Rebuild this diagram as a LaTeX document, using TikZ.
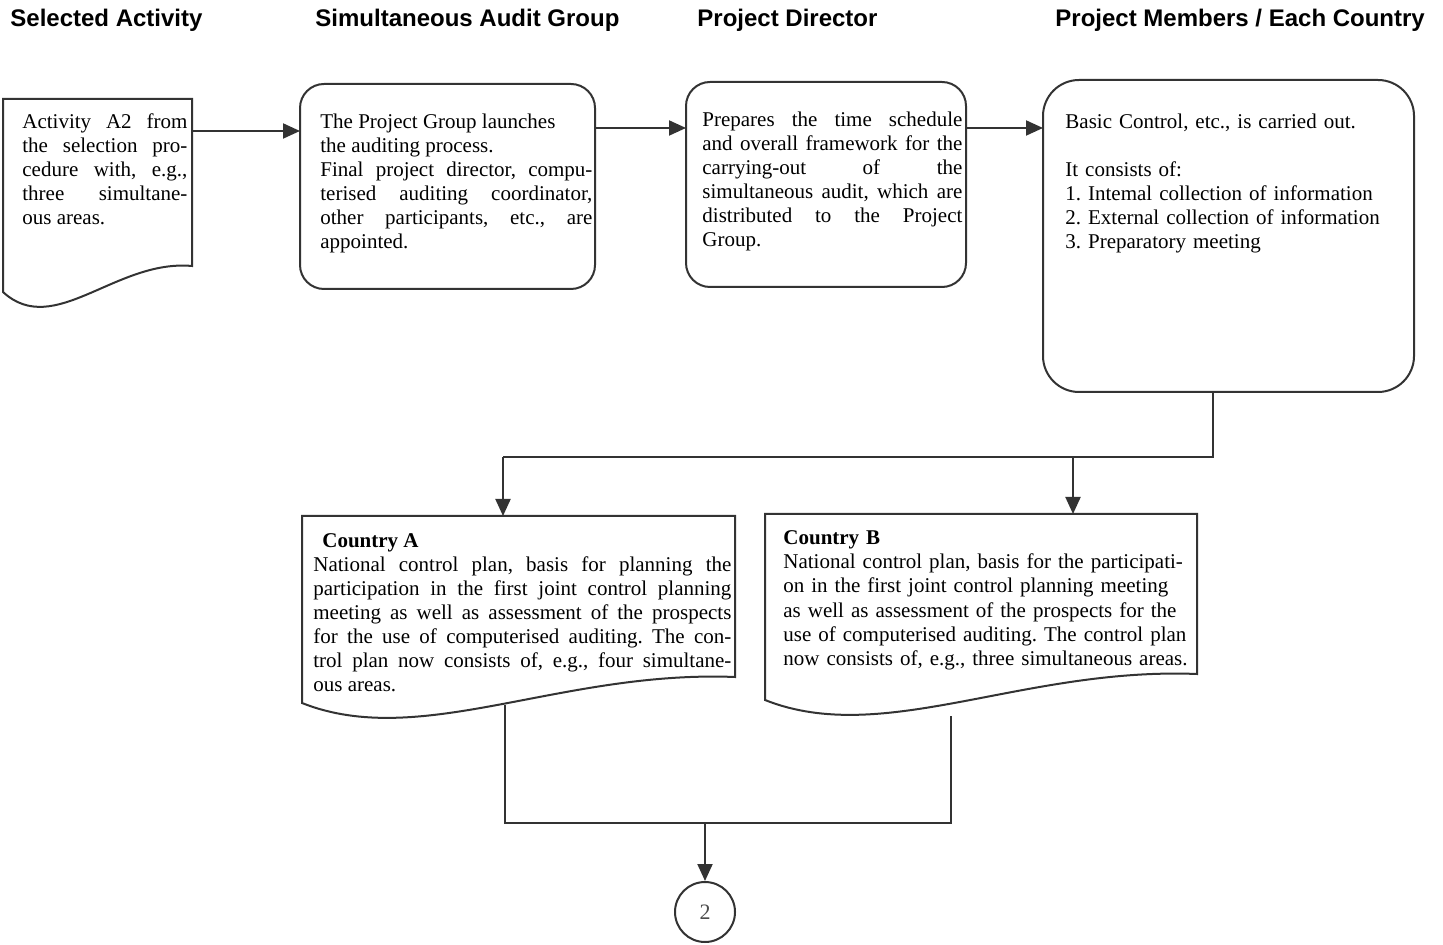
\documentclass[tikz,border=0pt]{standalone}
\usepackage{fontspec}
\setmainfont{Liberation Serif}
\newfontfamily\headfont{Liberation Sans}
\usepackage{tikz}
\usetikzlibrary{shapes,arrows,positioning,calc,arrows.meta}
\frenchspacing
\hyphenpenalty=10000

\tikzset{
    line/.style={draw=black!80, line width=1pt},
    arr/.style={line, -{Triangle[length=8.5pt,width=7.5pt]}},
    head/.style={font=\headfont\bfseries\fontsize{12}{14}\selectfont, anchor=base west, inner sep=0pt},
    txt/.style={font=\fontsize{10.5}{12}\selectfont, anchor=base west, inner sep=0pt, align=justify},
    roundbox/.style={line, rounded corners=12pt, minimum width=#1, inner sep=0pt, outer sep=0pt},
    docbox/.style={minimum width=#1, inner sep=0pt, outer sep=0pt}
}

% bottom edge of a document box
\newcommand{\docpath}[3]{\draw[line] (#1.south west) .. controls +(#2,47) and +(#3,-7) .. ([yshift=13pt]#1.south east) -- (#1.north east) -- (#1.north west) -- cycle;}

\begin{document}
\begin{tikzpicture}[x=0.5pt, y=-0.5pt]
    \useasboundingbox (0,0) rectangle (1443,945);

    % Column headings
    \node[head] (h1) at (10,27) {Selected Activity};
    \node[head] (h2) at (315,27) {Simultaneous Audit Group};
    \node[head] (h3) at (697,27) {Project Director};
    \node[head] (h4) at (1055,27) {Project Members / Each Country};

    % Boxes
    \node[docbox=94.5pt, minimum height=96.5pt] (act) at (97.5,195.5) {};
    \docpath{act}{51}{-76}
    \node[roundbox=147.5pt, minimum height=102.5pt] (grp) at (447.5,186.5) {};
    \node[roundbox=140pt, minimum height=102.5pt] (dir) at (826,184.5) {};
    \node[roundbox=185.5pt, minimum height=156pt, rounded corners=18pt] (mem) at (1228.5,236) {};
    \node[docbox=216.5pt, minimum height=93.5pt] (ctyA) at (518.5,609.5) {};
    \docpath{ctyA}{118}{-175}
    \node[docbox=216pt, minimum height=93pt] (ctyB) at (981,607) {};
    \docpath{ctyB}{118}{-175}
    \node[circle, line, minimum size=30pt, inner sep=0pt, font=\fontsize{11}{12}\selectfont, text=black!70] (next) at (705,912) {2};

    % Texts
    \node[txt, text width=82.5pt] (tact) at (22,129) {Activity A2 from\linebreak the selection pro-\linebreak cedure with, e.g.,\linebreak three simultane-\linebreak ous areas.};
    \node[txt, text width=136pt] (tgrp) at (320,129) {The Project Group launches\\ the auditing process.\\ Final project director, compu-\linebreak terised auditing coordinator,\linebreak other participants, etc., are\linebreak appointed.};
    \node[txt, text width=130pt] (tdir) at (702,127) {Prepares the time schedule\linebreak and overall framework for the\linebreak carrying-out of the\linebreak simultaneous audit, which are\linebreak distributed to the Project\linebreak Group.};
    \node[txt, text width=170pt, align=left] (tmem) at (1065,129) {Basic Control, etc., is carried out.\\[12pt] It consists of:\\ 1. Intemal collection of information\\ 2. External collection of information\\ 3. Preparatory meeting};
    \node[txt, text width=209pt] (tA) at (313,547) {\hspace*{4.5pt}\textbf{Country A}\\ National control plan, basis for planning the\linebreak participation in the first joint control planning\linebreak meeting as well as assessment of the prospects\linebreak for the use of computerised auditing. The con-\linebreak trol plan now consists of, e.g., four simultane-\linebreak ous areas.};
    \node[txt, text width=212pt, align=left] (tB) at (783,545) {\textbf{Country B}\\ National control plan, basis for the participati-\\ on in the first joint control planning meeting\\ as well as assessment of the prospects for the\\ use of computerised auditing. The control plan\\ now consists of, e.g., three simultaneous areas.};

    % Connectors
    \draw[arr] ([yshift=-16pt]act.north east) -- ([yshift=-16pt]act.north east -| grp.west);
    \draw[arr] ([yshift=-22pt]grp.north east) -- ([yshift=-22pt]grp.north east -| dir.west);
    \draw[arr] ([yshift=-23pt]dir.north east) -- ([yshift=-23pt]dir.north east -| mem.west);

    \coordinate (split) at (1213,457);
    \coordinate (splitA) at (503,457);
    \coordinate (splitB) at (1073,457);
    \draw[line] (mem.south -| split) -- (split) -- (splitA);
    \draw[arr] (splitA) -- (splitA |- ctyA.north);
    \draw[arr] (splitB) -- (splitB |- ctyB.north);

    \coordinate (outA) at (505,705);
    \coordinate (outB) at (951,716);
    \coordinate (mergeA) at (505,823);
    \coordinate (mergeB) at (951,823);
    \coordinate (merge) at (705,823);
    \draw[line] (outA) -- (mergeA) -- (mergeB) -- (outB);
    \draw[arr] (merge) -- (next.north);
\end{tikzpicture}
\end{document}
